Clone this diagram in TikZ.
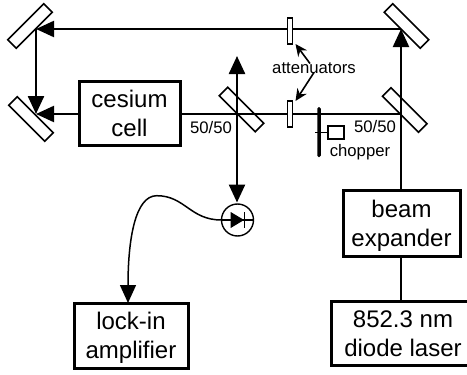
\documentclass[tikz,border=0pt]{standalone}
\usepackage{fontspec}
\setmainfont{Liberation Sans}
\usetikzlibrary{arrows.meta,positioning}

\begin{document}
\begin{tikzpicture}[
    x = 1pt,
    y = -1pt,
    >={Triangle[length=18pt,width=16pt]},
    every node/.style = {align=center, inner sep=0pt, outer sep=0pt},
    box/.style = {draw, line width=3pt, fill=white, text depth=0pt, font=\fontsize{24}{29}\selectfont},
    mirror/.style = {draw, line width=1.6pt, fill=white, minimum width=51pt, minimum height=12pt},
    atten/.style = {draw, line width=1.4pt, fill=white, minimum width=5pt, minimum height=26pt},
    small/.style = {font=\fontsize{16.7}{20}\selectfont},
    beam/.style = {line width=2.2pt},
    pointer/.style = {line width=1.6pt, -{Stealth[length=12pt,width=11pt]}}
  ]
  \useasboundingbox (0,0) rectangle (467,375);

  % mirrors and beam splitters
  \node (mTL) [mirror, rotate=45] at (30,26) {};
  \node (mBL) [mirror, rotate=-45] at (31,119) {};
  \node (mTR) [mirror, rotate=-45] at (406.5,26) {};
  \node (bsR) [mirror, rotate=-45] at (404.7,110) {};
  \node (bsC) [mirror, rotate=-45] at (241.5,109.5) {};

  % boxes
  \node (cell) [box, minimum width=101pt, minimum height=64pt] at (129.5,113) {cesium\\cell};
  \node (lockin) [box, minimum width=114pt, minimum height=65pt] at (131,335.5) {lock-in\\amplifier};
  \node (expander) [box, minimum width=117pt, minimum height=66pt] at (401.5,223) {beam\\expander};
  \node (laser) [box, minimum width=144pt, minimum height=64pt] at (403,333.5) {852.3 nm\\diode laser};

  % photodiode
  \node (pd) [draw, circle, line width=1.4pt, minimum size=32pt] at (237.5,220) {};

  \coordinate (hitTL) at (36,29);
  \coordinate (hitBL) at (36,114);
  \coordinate (hitTR) at (401,29);
  \coordinate (hitR) at (401,114);
  \coordinate (pdUp) at (237,56);
  \coordinate (peak) at (156.7,195.7);

  % beams
  \draw[beam] (laser.north -| hitR) -- (expander.south -| hitR);
  \draw[beam,->] (expander.north -| hitR) -- (hitTR);
  \draw[beam,->] (hitTR) -- (hitTL);
  \draw[line width=2.4pt,->] (hitTL) -- (hitBL);
  \draw[beam] (hitR) -- (cell.east |- hitR);
  \draw[beam,->] (cell.west |- hitBL) -- (hitBL);
  \draw[line width=2.4pt,<->,shorten >=1.5pt] (pdUp) -- (pd.north -| pdUp);

  % attenuators and chopper
  \node (attTop) [atten] at (290,31) {};
  \node (attBot) [atten] at (290,114) {};
  \node (attLabel) [small] at (314,68) {attenuators};
  \node (blade) [fill=black, minimum width=3.5pt, minimum height=50pt, rounded corners=1.5pt] at (319,132) {};
  \node (motor) [draw, line width=1.4pt, fill=white, minimum width=16pt, minimum height=13pt] at (336,132.5) {};
  \node (chopLabel) [small] at (360,152) {chopper};
  \node (splitR) [small] at (375,127) {50/50};
  \node (splitC) [small] at (211,128) {50/50};

  \draw[pointer] ([xshift=-4pt,yshift=-1pt]attLabel.north) -- ([xshift=5.5pt]attTop.south);
  \draw[pointer] ([yshift=1pt]attLabel.south) -- ([xshift=5.5pt]attBot.north);
  \draw[line width=1.3pt] (motor.west) -- ++(-13,0);

  % diode symbol
  \fill (230.7,212) -- (244,220) -- (230.7,228) -- cycle;
  \draw[line width=1.6pt] (244.3,212) -- (244.3,228);
  \draw[line width=1.4pt] (pd.west) -- (pd.east);
  \draw[line width=1.5pt,->] (pd.west) .. controls (190,220) and (185,195.7) .. (peak)
    .. controls (135,195.7) and (128,240) .. ([xshift=-3pt]lockin.north);
\end{tikzpicture}
\end{document}
